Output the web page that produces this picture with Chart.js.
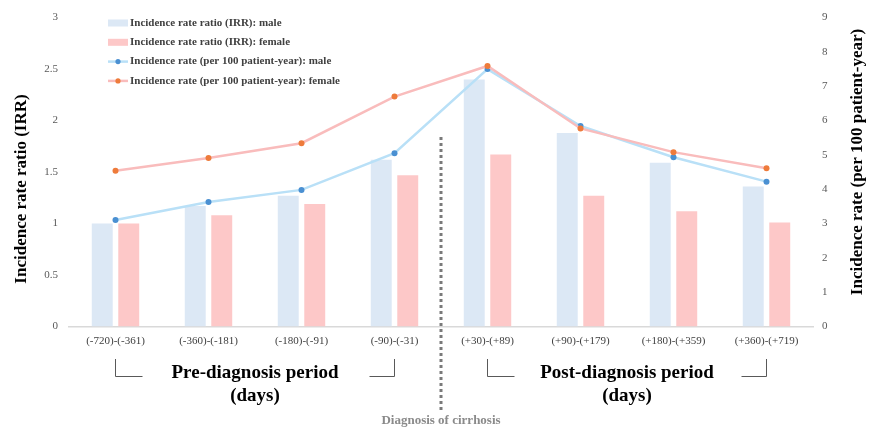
<!DOCTYPE html>
<html>
<head>
<meta charset="utf-8">
<script src="https://cdn.jsdelivr.net/npm/chart.js@4/dist/chart.umd.min.js"></script>
<style>
  html, body { margin: 0; padding: 0; background: #ffffff; }
  #wrap { width: 875px; height: 434px; position: relative; }
</style>
</head>
<body>
<div id="wrap"><canvas id="c" width="875" height="434"></canvas></div>
<script>
// Observation windows relative to cirrhosis diagnosis (days)
const categories = ['(-720)-(-361)', '(-360)-(-181)', '(-180)-(-91)', '(-90)-(-31)',
                    '(+30)-(+89)', '(+90)-(+179)', '(+180)-(+359)', '(+360)-(+719)'];

// Incidence rate ratio (left axis)
const irrMale   = [1.00, 1.17, 1.27, 1.62, 2.40, 1.88, 1.59, 1.36];
const irrFemale = [1.00, 1.08, 1.19, 1.47, 1.67, 1.27, 1.12, 1.01];

// Incidence rate per 100 patient-year (right axis)
const rateMale   = [3.10, 3.63, 3.98, 5.05, 7.50, 5.84, 4.93, 4.22];
const rateFemale = [4.54, 4.91, 5.34, 6.70, 7.59, 5.77, 5.08, 4.61];

const leftTicks  = [0, 0.5, 1, 1.5, 2, 2.5, 3];
const rightTicks = [0, 1, 2, 3, 4, 5, 6, 7, 8, 9];

const SERIF = '"Liberation Serif", "Times New Roman", serif';

const COL = {
  barMale: '#dce8f5',
  barFemale: '#fdc8c8',
  lineMale: '#b9e0f7',
  pointMale: '#4a90d2',
  lineFemale: '#f9bcbc',
  pointFemale: '#ee7b3b'
};

// Legend drawn inside the plot, top-left
const insideLegend = {
  id: 'insideLegend',
  afterDraw(chart) {
    const ctx = chart.ctx;
    const ds = chart.data.datasets;
    const x0 = 108, y0 = 23, step = 19.3;
    ctx.save();
    ctx.font = 'bold 11px ' + SERIF;
    ctx.textBaseline = 'middle';
    ctx.textAlign = 'left';
    ds.forEach((d, k) => {
      const y = y0 + k * step;
      if (d.type === 'bar') {
        ctx.fillStyle = d.backgroundColor;
        ctx.fillRect(x0, y - 3.5, 20, 7);
      } else {
        ctx.strokeStyle = d.borderColor;
        ctx.lineWidth = 2.5;
        ctx.beginPath();
        ctx.moveTo(x0, y);
        ctx.lineTo(x0 + 20, y);
        ctx.stroke();
        ctx.fillStyle = d.pointBackgroundColor;
        ctx.beginPath();
        ctx.arc(x0 + 10, y, 2.6, 0, Math.PI * 2);
        ctx.fill();
      }
      ctx.fillStyle = '#404040';
      ctx.fillText(d.label, x0 + 22, y);
    });
    ctx.restore();
  }
};

// Axis titles, diagnosis marker and period annotations
const annotations = {
  id: 'annotations',
  afterDraw(chart) {
    const ctx = chart.ctx;
    const xs = chart.scales.x;
    ctx.save();

    // axis titles
    ctx.fillStyle = '#000';
    ctx.font = 'bold 17px ' + SERIF;
    ctx.textAlign = 'center';
    ctx.textBaseline = 'middle';
    ctx.save();
    ctx.translate(22, 189);
    ctx.rotate(-Math.PI / 2);
    ctx.fillText('Incidence rate ratio (IRR)', 0, 0);
    ctx.restore();
    ctx.save();
    ctx.translate(858, 162);
    ctx.rotate(-Math.PI / 2);
    ctx.fillText('Incidence rate (per 100 patient-year)', 0, 0);
    ctx.restore();

    // diagnosis divider
    const xd = (xs.getPixelForValue(3) + xs.getPixelForValue(4)) / 2;
    ctx.strokeStyle = '#7a7a7a';
    ctx.lineWidth = 3;
    ctx.setLineDash([3, 3]);
    ctx.beginPath();
    ctx.moveTo(xd, 137);
    ctx.lineTo(xd, 413);
    ctx.stroke();
    ctx.setLineDash([]);
    ctx.fillStyle = '#8a8a8a';
    ctx.font = 'bold 13px ' + SERIF;
    ctx.fillText('Diagnosis of cirrhosis', xd, 421);

    // period labels with brackets
    const periods = [
      { from: 0, to: 3, lines: ['Pre-diagnosis period', '(days)'] },
      { from: 4, to: 7, lines: ['Post-diagnosis period', '(days)'] }
    ];
    periods.forEach(p => {
      const xa = xs.getPixelForValue(p.from);
      const xb = xs.getPixelForValue(p.to);
      const xc = (xa + xb) / 2;
      ctx.fillStyle = '#000';
      ctx.font = 'bold 19px ' + SERIF;
      ctx.fillText(p.lines[0], xc, 373);
      ctx.fillText(p.lines[1], xc, 396);
      ctx.strokeStyle = '#595959';
      ctx.lineWidth = 1;
      ctx.beginPath();
      ctx.moveTo(xa, 359);
      ctx.lineTo(xa, 376.5);
      ctx.lineTo(xa + 27, 376.5);
      ctx.moveTo(xb - 25, 376.5);
      ctx.lineTo(xb, 376.5);
      ctx.lineTo(xb, 359);
      ctx.stroke();
    });
    ctx.restore();
  }
};

new Chart(document.getElementById('c'), {
  data: {
    labels: categories,
    datasets: [
      {
        type: 'bar', label: 'Incidence rate ratio (IRR): male', data: irrMale,
        yAxisID: 'y', backgroundColor: COL.barMale, order: 2,
        categoryPercentage: 0.57, barPercentage: 0.79
      },
      {
        type: 'bar', label: 'Incidence rate ratio (IRR): female', data: irrFemale,
        yAxisID: 'y', backgroundColor: COL.barFemale, order: 2,
        categoryPercentage: 0.57, barPercentage: 0.79
      },
      {
        type: 'line', label: 'Incidence rate (per 100 patient-year): male', data: rateMale,
        yAxisID: 'y1', borderColor: COL.lineMale, borderWidth: 2.5,
        pointBackgroundColor: COL.pointMale, pointBorderWidth: 0,
        pointRadius: 3, tension: 0, order: 1
      },
      {
        type: 'line', label: 'Incidence rate (per 100 patient-year): female', data: rateFemale,
        yAxisID: 'y1', borderColor: COL.lineFemale, borderWidth: 2.5,
        pointBackgroundColor: COL.pointFemale, pointBorderWidth: 0,
        pointRadius: 3, tension: 0, order: 0
      }
    ]
  },
  options: {
    responsive: false,
    animation: false,
    layout: { padding: { top: 14, left: 0, right: 0, bottom: 0 } },
    plugins: {
      legend: { display: false },
      tooltip: { enabled: false }
    },
    scales: {
      x: {
        grid: { display: false, drawTicks: false },
        border: { display: true, color: '#d9d9d9', width: 1.5 },
        ticks: {
          color: '#404040', padding: 8, maxRotation: 0, autoSkip: false,
          font: { family: SERIF, size: 11 }
        },
        afterFit(s) { s.height = 107.5; }
      },
      y: {
        position: 'left', min: 0, max: 3,
        afterBuildTicks(s) { s.ticks = leftTicks.map(v => ({ value: v })); },
        grid: { display: false, drawTicks: false },
        border: { display: false },
        ticks: {
          color: '#595959', padding: 11,
          font: { family: SERIF, size: 11 },
          callback: v => String(v)
        },
        afterFit(s) { s.width = 69; }
      },
      y1: {
        position: 'right', min: 0, max: 9,
        afterBuildTicks(s) { s.ticks = rightTicks.map(v => ({ value: v })); },
        grid: { display: false, drawTicks: false },
        border: { display: false },
        ticks: {
          color: '#595959', padding: 9,
          font: { family: SERIF, size: 11 },
          callback: v => String(v)
        },
        afterFit(s) { s.width = 62; }
      }
    }
  },
  plugins: [insideLegend, annotations]
});
</script>
</body>
</html>
